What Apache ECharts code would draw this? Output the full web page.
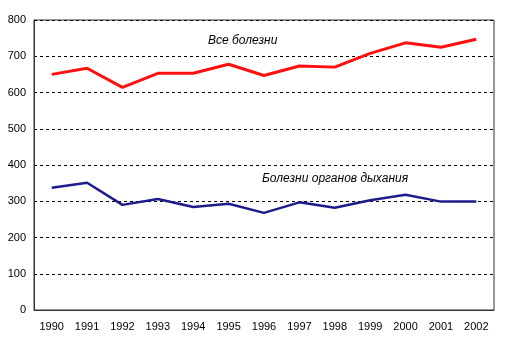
<!DOCTYPE html>
<html><head><meta charset="utf-8">
<script src="https://cdn.jsdelivr.net/npm/echarts@6/dist/echarts.min.js"></script>
<style>html,body{margin:0;padding:0;background:#fff}#c{width:514px;height:342px}</style>
</head><body><div id="c"></div>
<script>
const years = ['1990','1991','1992','1993','1994','1995','1996','1997','1998','1999','2000','2001','2002'];
const allDiseases = [650,667,614,653,653,678,647,673,670,708,737,725,747];
const respiratory = [337,351,290,306,284,293,268,297,282,303,318,299,299];
const nameAll = 'Все болезни';
const nameResp = 'Болезни органов дыхания';

const chart = echarts.init(document.getElementById('c'));
chart.setOption({
  animation:false,
  grid:{left:34,top:20,width:460,height:290,show:true,borderColor:'#333',borderWidth:1,containLabel:false},
  xAxis:{type:'category',data:years,boundaryGap:true,
    axisLine:{lineStyle:{color:'#333'}},axisTick:{show:false},
    axisLabel:{color:'#000',fontFamily:'Liberation Sans, Arial',fontSize:11,margin:11}},
  yAxis:{type:'value',min:0,max:800,interval:100,
    axisLine:{show:true,lineStyle:{color:'#333'}},axisTick:{show:false},
    axisLabel:{color:'#000',fontFamily:'Liberation Sans, Arial',fontSize:11,margin:8},
    splitLine:{show:true,lineStyle:{color:'#000',type:[3,3],width:1}}},
  series:[
    {name:nameAll,type:'line',data:allDiseases,symbol:'none',lineStyle:{color:'#ff1010',width:3}},
    {name:nameResp,type:'line',data:respiratory,symbol:'none',lineStyle:{color:'#1c1c8c',width:2.5}}
  ],
  graphic:[
    {type:'text',left:208,top:35,style:{text:nameAll,fontFamily:'Liberation Sans, Arial',fontSize:12,fontStyle:'italic',fill:'#000'}},
    {type:'text',left:262,top:173,style:{text:nameResp,fontFamily:'Liberation Sans, Arial',fontSize:12,fontStyle:'italic',fill:'#000'}}
  ]
});
</script></body></html>
